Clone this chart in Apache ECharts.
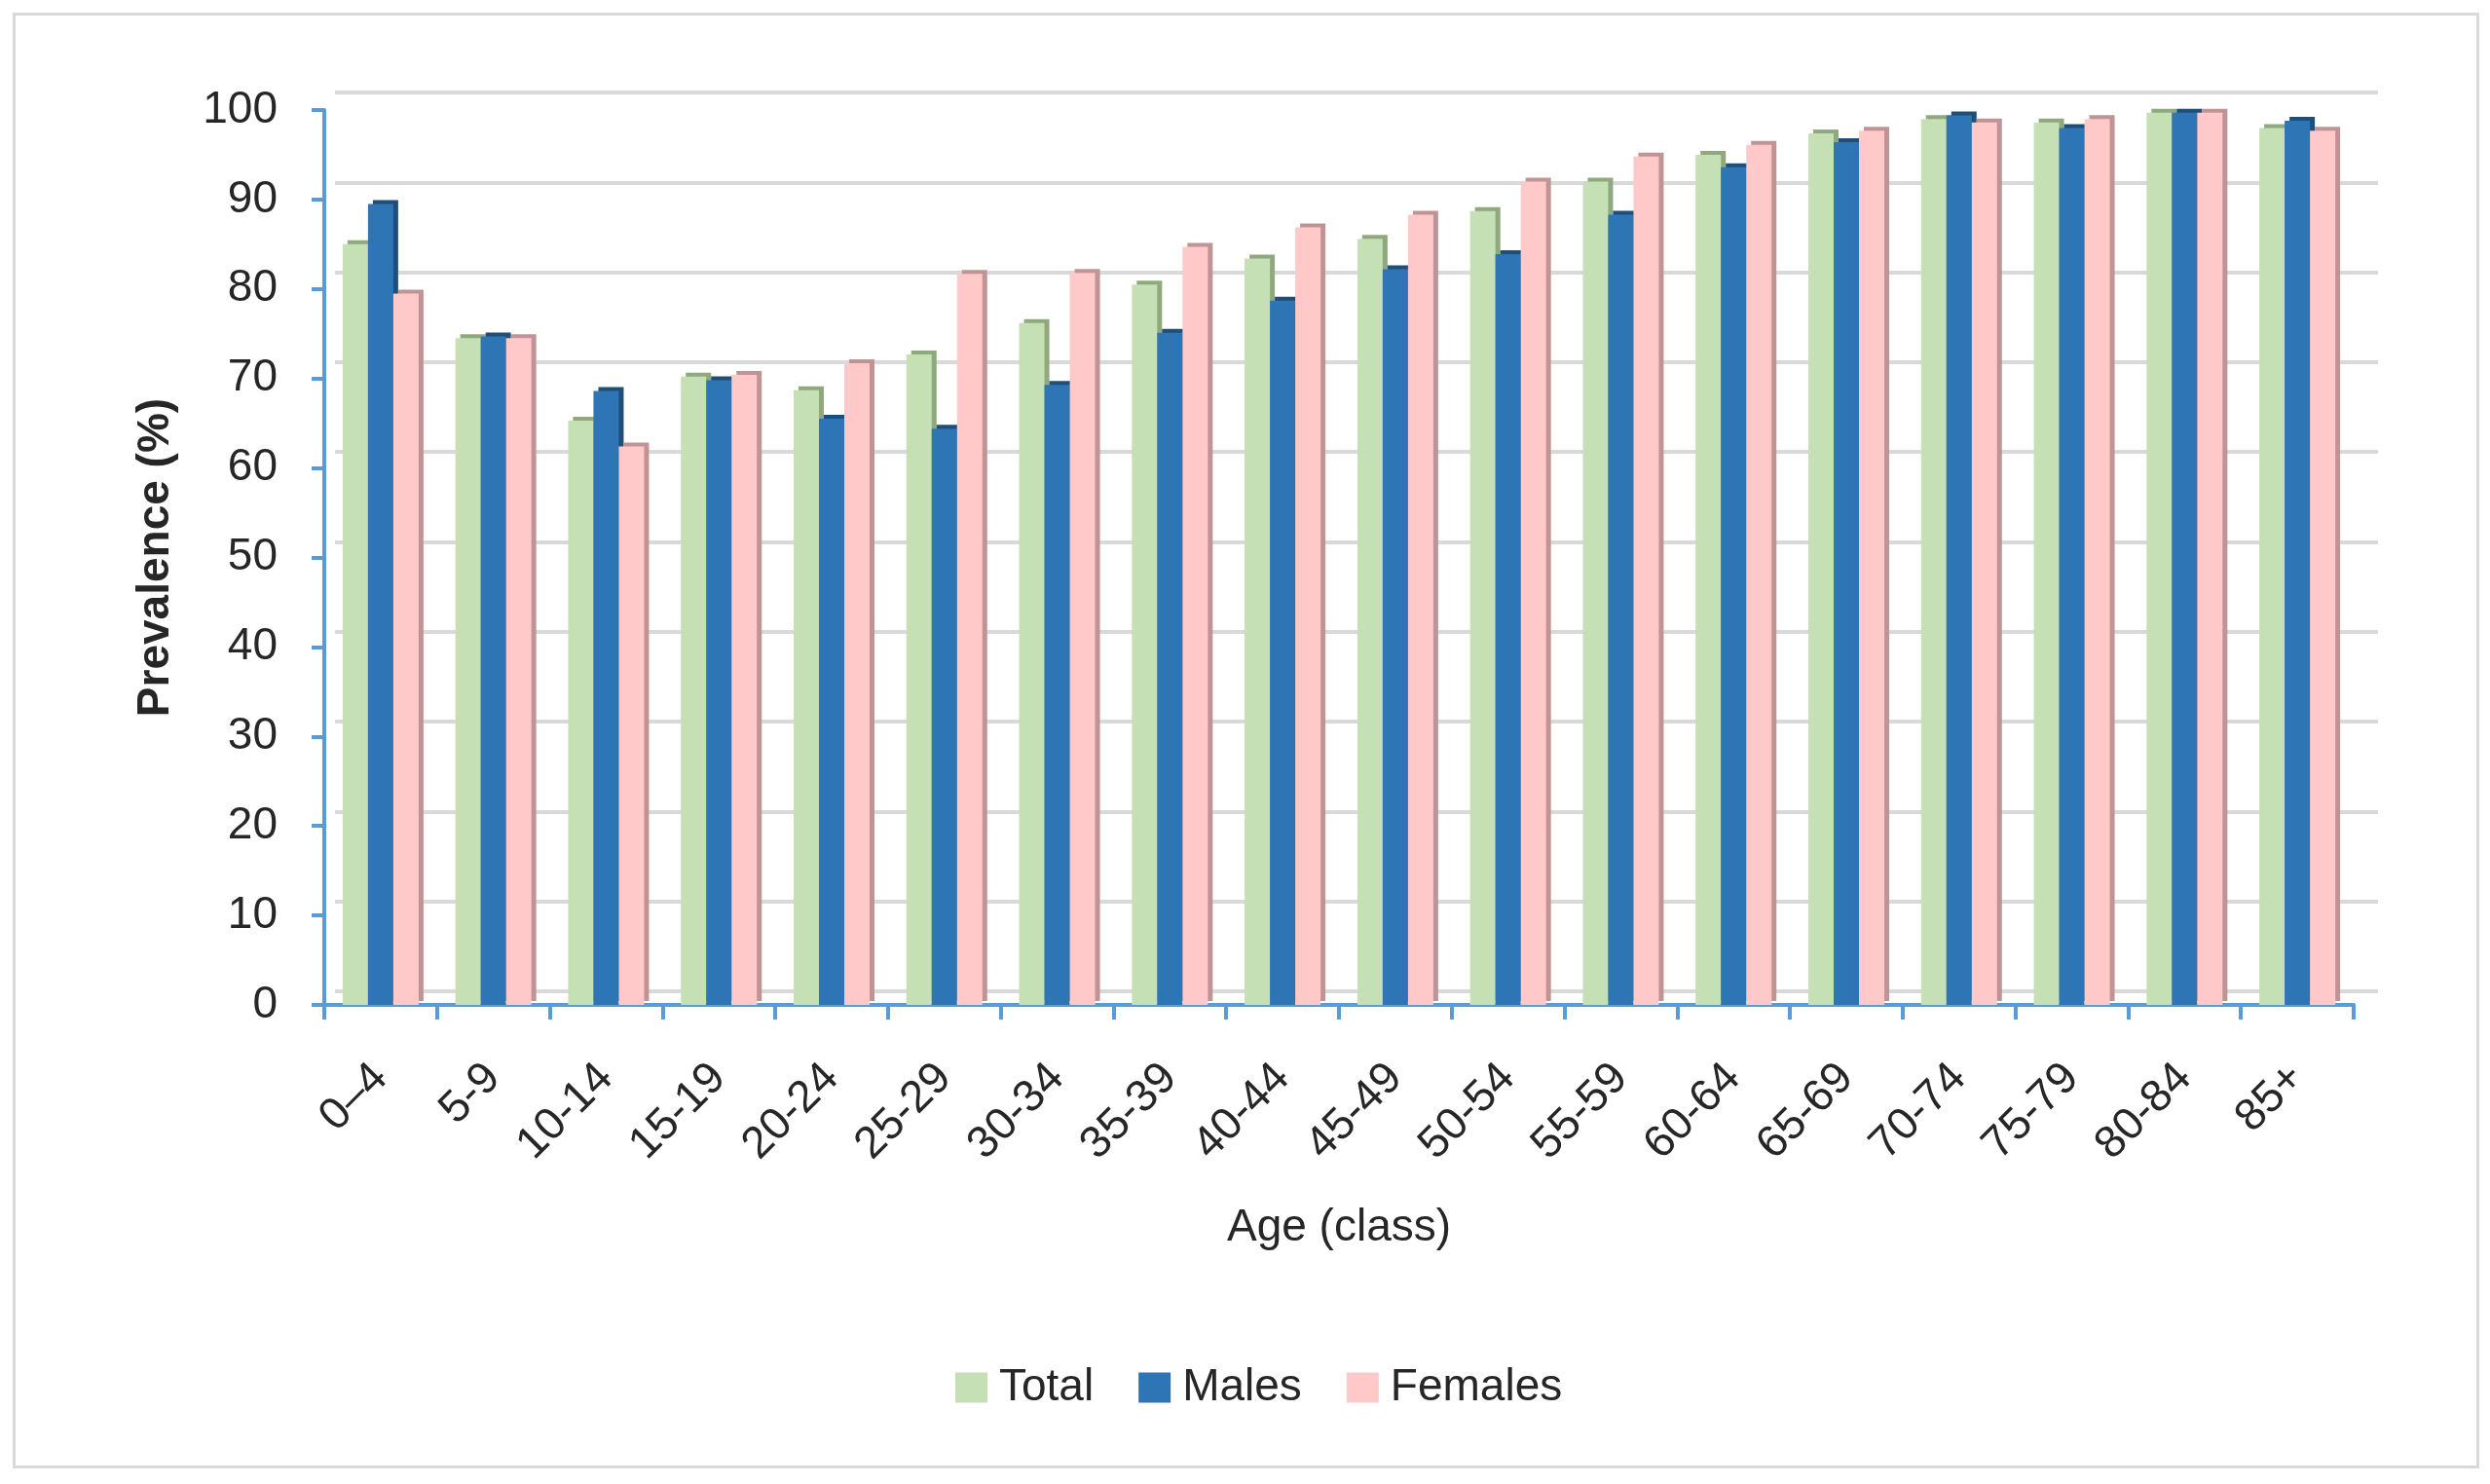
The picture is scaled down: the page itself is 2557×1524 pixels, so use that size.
<!DOCTYPE html>
<html>
<head>
<meta charset="utf-8">
<script src="https://cdn.jsdelivr.net/npm/echarts@6/dist/echarts.min.js"></script>
<style>
html,body{margin:0;padding:0;background:#fff;}
#chart{position:absolute;left:0;top:0;width:2557px;height:1524px;}
#frame{position:absolute;left:13px;top:13px;width:2527px;height:1489px;border:3px solid #d9d9d9;pointer-events:none;}
</style>
</head>
<body>
<div id="chart"></div>
<div id="frame"></div>
<script>
const categories = ['0\u20134','5-9','10-14','15-19','20-24','25-29','30-34','35-39','40-44','45-49','50-54','55-59','60-64','65-69','70-74','75-79','80-84','85+'];
const totalValues   = [85, 74.5, 65.3, 70.2, 68.7, 72.7, 76.2, 80.5, 83.4, 85.6, 88.7, 92, 95, 97.4, 99, 98.6, 99.7, 98];
const malesValues   = [89.5, 74.7, 68.6, 69.8, 65.5, 64.4, 69.3, 75.1, 78.7, 82.2, 83.9, 88.3, 93.6, 96.4, 99.4, 98, 99.7, 98.8];
const femalesValues = [79.5, 74.5, 62.4, 70.4, 71.7, 81.7, 81.8, 84.7, 86.9, 88.3, 92, 94.8, 96.1, 97.7, 98.6, 99, 99.7, 97.7];
const yTicks = {min: 0, max: 100, interval: 10};

const FONT = '"Liberation Sans", Arial, sans-serif';
const TXT = '#262626';
const AXIS_BLUE = '#5b9bd5';

const chart = echarts.init(document.getElementById('chart'), null, {renderer: 'canvas'});

function barSeries(name, data, color, side) {
  return {
    name: name,
    type: 'bar',
    xAxisIndex: 1,
    yAxisIndex: 1,
    data: data,
    barWidth: 26,
    barGap: '0%',
    itemStyle: {
      color: color,
      shadowColor: side,
      shadowBlur: 0,
      shadowOffsetX: 5,
      shadowOffsetY: -4
    },
    emphasis: {disabled: true},
    animation: false
  };
}

const option = {
  animation: false,
  backgroundColor: '#ffffff',
  textStyle: {fontFamily: FONT},
  grid: [
    {left: 344, right: 115, top: 95, bottom: 506, containLabel: false},
    {left: 333, right: 140, top: 113, bottom: 492, containLabel: false}
  ],
  xAxis: [
    {gridIndex: 0, type: 'category', data: categories, show: false},
    {
      gridIndex: 1,
      type: 'category',
      data: categories,
      boundaryGap: true,
      name: 'Age (class)',
      nameLocation: 'middle',
      nameGap: 206,
      nameTextStyle: {fontFamily: FONT, fontSize: 46, color: TXT},
      axisLine: {show: true, lineStyle: {color: AXIS_BLUE, width: 4}},
      axisTick: {show: true, alignWithLabel: false, length: 15, lineStyle: {color: AXIS_BLUE, width: 4}},
      axisLabel: {rotate: 45, margin: 68, fontFamily: FONT, fontSize: 46, color: TXT, interval: 0},
      splitLine: {show: false}
    }
  ],
  yAxis: [
    {
      gridIndex: 0,
      type: 'value',
      min: yTicks.min, max: yTicks.max, interval: yTicks.interval,
      axisLine: {show: false},
      axisTick: {show: false},
      axisLabel: {show: false},
      splitLine: {show: true, lineStyle: {color: '#d9d9d9', width: 4}}
    },
    {
      gridIndex: 1,
      type: 'value',
      min: yTicks.min, max: yTicks.max, interval: yTicks.interval,
      name: 'Prevalence (%)',
      nameLocation: 'middle',
      nameGap: 150,
      nameTextStyle: {fontFamily: FONT, fontSize: 46, fontWeight: 'bold', color: TXT},
      axisLine: {show: true, lineStyle: {color: AXIS_BLUE, width: 4}},
      axisTick: {show: true, length: 13, lineStyle: {color: AXIS_BLUE, width: 4}},
      axisLabel: {margin: 48, fontFamily: FONT, fontSize: 46, color: TXT},
      splitLine: {show: false}
    }
  ],
  legend: {
    left: 976,
    top: 1397,
    itemWidth: 33,
    itemHeight: 31,
    itemGap: 46,
    icon: 'rect',
    data: ['Total', 'Males', 'Females'],
    itemStyle: {shadowColor: 'rgba(0,0,0,0)', shadowOffsetX: 0, shadowOffsetY: 0},
    textStyle: {fontFamily: FONT, fontSize: 46, color: TXT, padding: [0, 0, 0, 7]}
  },
  series: [
    barSeries('Total', totalValues, '#c5e0b4', '#8fa97d'),
    barSeries('Males', malesValues, '#2e75b6', '#1f4e79'),
    barSeries('Females', femalesValues, '#ffc9c9', '#c09494')
  ]
};

chart.setOption(option);
</script>
</body>
</html>
